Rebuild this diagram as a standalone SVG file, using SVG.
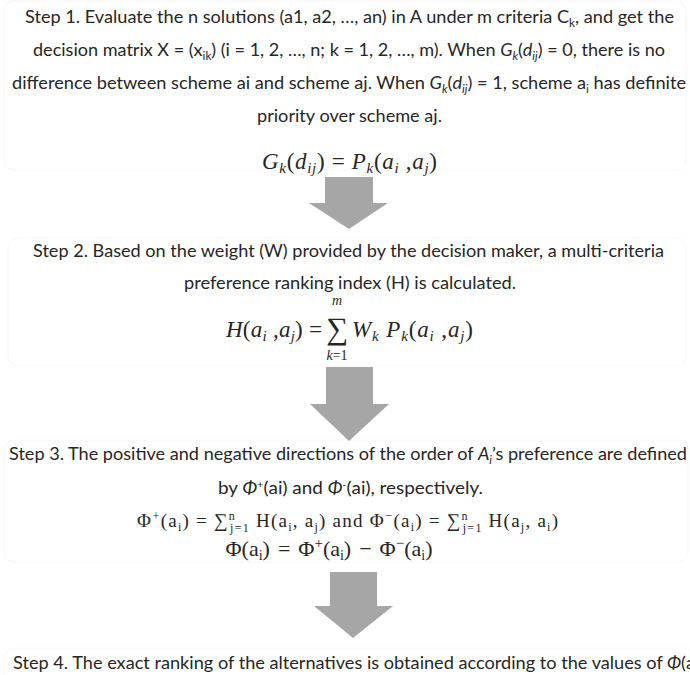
<svg xmlns="http://www.w3.org/2000/svg" width="690" height="675" viewBox="0 0 690 675">
<style>
.t{font-family:Lato,"Open Sans","Liberation Sans",sans-serif;font-size:17px;fill:#262626}
.n{font-family:Lato,"Open Sans","Liberation Sans",sans-serif;font-size:17px;fill:#262626}
.m{font-family:"Liberation Serif","DejaVu Serif",serif;fill:#262626}
.i{font-style:italic}
.box{fill:none;stroke:#f6f6f6;stroke-width:1}
.arrow{fill:#a6a6a6}
</style>
<rect width="690" height="675" fill="#ffffff"/>

<g id="step1">
<rect class="box" x="4" y="1" width="682" height="169" rx="10"/>
<text class="t" x="25" y="23" textLength="649" lengthAdjust="spacingAndGlyphs">Step 1. Evaluate the n solutions (a1, a2, …, an) in A under m criteria C<tspan font-size="11" dy="4">k</tspan><tspan dy="-4">, and get the</tspan></text>
<text class="t" x="33" y="56" textLength="632" lengthAdjust="spacingAndGlyphs">decision matrix X = (x<tspan font-size="11" dy="4">ik</tspan><tspan dy="-4">) (i = 1, 2, …, n; k = 1, 2, …, m). When </tspan><tspan class="i">G</tspan><tspan class="i" font-size="11" dy="4">k</tspan><tspan dy="-4">(</tspan><tspan class="i">d</tspan><tspan class="i" font-size="11" dy="4">ij</tspan><tspan dy="-4">) = 0, there is no</tspan></text>
<text class="t" x="12" y="89" textLength="674" lengthAdjust="spacingAndGlyphs">difference between scheme ai and scheme aj. When <tspan class="i">G</tspan><tspan class="i" font-size="11" dy="4">k</tspan><tspan dy="-4">(</tspan><tspan class="i">d</tspan><tspan class="i" font-size="11" dy="4">ij</tspan><tspan dy="-4">) = 1, scheme a</tspan><tspan font-size="11" dy="4">i</tspan><tspan dy="-4"> has definite</tspan></text>
<text class="t" x="257" y="122" textLength="185" lengthAdjust="spacingAndGlyphs">priority over scheme aj.</text>
<text class="m" font-size="23" x="262" y="169" textLength="175" lengthAdjust="spacing"><tspan class="i">G</tspan><tspan class="i" font-size="15" dy="4">k</tspan><tspan dy="-4">(</tspan><tspan class="i">d</tspan><tspan class="i" font-size="15" dy="4">ij</tspan><tspan dy="-4">) = </tspan><tspan class="i">P</tspan><tspan class="i" font-size="15" dy="4">k</tspan><tspan dy="-4">(</tspan><tspan class="i">a</tspan><tspan class="i" font-size="15" dy="4">i</tspan><tspan dy="-4"> ,</tspan><tspan class="i">a</tspan><tspan class="i" font-size="15" dy="4">j</tspan><tspan dy="-4">)</tspan></text>
</g>

<g id="step2">
<rect class="box" x="8" y="238" width="678" height="128" rx="10"/>
<text class="n" x="33" y="257" textLength="631" lengthAdjust="spacingAndGlyphs">Step 2. Based on the weight (W) provided by the decision maker, a multi-criteria</text>
<text class="n" x="184" y="289" textLength="332" lengthAdjust="spacingAndGlyphs">preference  ranking index (H) is calculated.</text>
<text class="m" font-size="23" x="226" y="337" textLength="96" lengthAdjust="spacing"><tspan class="i">H</tspan>(<tspan class="i">a</tspan><tspan class="i" font-size="15" dy="4">i</tspan><tspan dy="-4"> ,</tspan><tspan class="i">a</tspan><tspan class="i" font-size="15" dy="4">j</tspan><tspan dy="-4">) =</tspan></text>
<text class="m" font-size="31" x="337" y="339" text-anchor="middle">∑</text>
<text class="m i" font-size="14" x="337" y="305" text-anchor="middle">m</text>
<text class="m" font-size="14" x="337" y="360" text-anchor="middle"><tspan class="i">k</tspan>=1</text>
<text class="m" font-size="23" x="352" y="337" textLength="121" lengthAdjust="spacing"><tspan class="i">W</tspan><tspan class="i" font-size="15" dy="4">k</tspan><tspan dy="-4"> </tspan><tspan class="i">P</tspan><tspan class="i" font-size="15" dy="4">k</tspan><tspan dy="-4">(</tspan><tspan class="i">a</tspan><tspan class="i" font-size="15" dy="4">i</tspan><tspan dy="-4"> ,</tspan><tspan class="i">a</tspan><tspan class="i" font-size="15" dy="4">j</tspan><tspan dy="-4">)</tspan></text>
</g>

<g id="step3">
<rect class="box" x="4" y="440" width="684" height="122" rx="10"/>
<text class="n" x="9" y="460" textLength="678" lengthAdjust="spacingAndGlyphs">Step 3. The positive and negative directions of the order of <tspan class="i">A</tspan><tspan class="i" font-size="11" dy="4">i</tspan><tspan dy="-4">’s preference  are defined</tspan></text>
<text class="n" x="218" y="494" textLength="265" lengthAdjust="spacingAndGlyphs">by <tspan class="i">Φ</tspan><tspan font-size="10" dy="-6">+</tspan><tspan dy="6">(ai) and </tspan><tspan class="i">Φ</tspan><tspan font-size="10" dy="-6">-</tspan><tspan dy="6">(ai), respectively.</tspan></text>
<text class="m" font-size="19" x="137" y="527" textLength="421" lengthAdjust="spacing">Φ<tspan font-size="13" dy="-7">+</tspan><tspan dy="7">(a</tspan><tspan font-size="12" dy="4">i</tspan><tspan dy="-4">) = ∑</tspan><tspan font-size="12" dy="-7">n</tspan><tspan font-size="12" dx="-6" dy="12">j=1</tspan><tspan dy="-5"> H(a</tspan><tspan font-size="12" dy="4">i</tspan><tspan dy="-4">, a</tspan><tspan font-size="12" dy="4">j</tspan><tspan dy="-4">) and Φ</tspan><tspan font-size="13" dy="-7">−</tspan><tspan dy="7">(a</tspan><tspan font-size="12" dy="4">i</tspan><tspan dy="-4">) = ∑</tspan><tspan font-size="12" dy="-7">n</tspan><tspan font-size="12" dx="-6" dy="12">j=1</tspan><tspan dy="-5"> H(a</tspan><tspan font-size="12" dy="4">j</tspan><tspan dy="-4">, a</tspan><tspan font-size="12" dy="4">i</tspan><tspan dy="-4">)</tspan></text>
<text class="m" font-size="22" x="329" y="556" text-anchor="middle">Φ(a<tspan font-size="14" dy="4">i</tspan><tspan dy="-4">)</tspan><tspan dx="8">=</tspan><tspan dx="8">Φ</tspan><tspan font-size="15" dy="-8">+</tspan><tspan dy="8">(a</tspan><tspan font-size="14" dy="4">i</tspan><tspan dy="-4">)</tspan><tspan dx="8">−</tspan><tspan dx="8">Φ</tspan><tspan font-size="15" dy="-8">−</tspan><tspan dy="8">(a</tspan><tspan font-size="14" dy="4">i</tspan><tspan dy="-4">)</tspan></text>
</g>

<g id="step4">
<rect class="box" x="4" y="648" width="690" height="40" rx="10"/>
<text class="n" x="13" y="669" textLength="682" lengthAdjust="spacingAndGlyphs">Step 4. The exact ranking of the alternatives is obtained according to the values of <tspan class="i">Φ</tspan>(a</text>
</g>

<g id="connectors">
<polygon class="arrow" points="325,177 373,177 373,203 388,203 349,229 309,203 325,203"/>
<polygon class="arrow" points="326,367 373,367 373,404 389,404 349,441 310,404 326,404"/>
<polygon class="arrow" points="330,572 377,572 377,606 393,606 353,638 314,606 330,606"/>
</g>
</svg>
